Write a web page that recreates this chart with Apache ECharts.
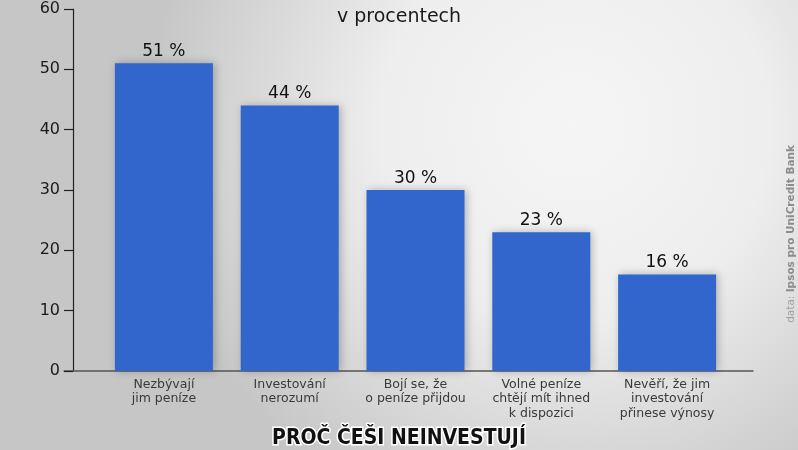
<!DOCTYPE html>
<html>
<head>
<meta charset="utf-8">
<script src="https://cdn.jsdelivr.net/npm/echarts@6/dist/echarts.min.js"></script>
<style>
  html, body { margin: 0; padding: 0; }
  #main { width: 798px; height: 450px; }
</style>
</head>
<body>
<div id="main"></div>
<script>
// data
var categories = ['Nezbývají\njim peníze', 'Investování\nnerozumí', 'Bojí se, že\no peníze přijdou', 'Volné peníze\nchtějí mít ihned\nk dispozici', 'Nevěří, že jim\ninvestování\npřinese výnosy'];
var values = [51, 44, 30, 23, 16];
var yTicks = [0, 10, 20, 30, 40, 50, 60];

var chart = echarts.init(document.getElementById('main'));

var font = '"DejaVu Sans", sans-serif';

var option = {
  backgroundColor: {
    type: 'radial', x: 0.72, y: 0.28, r: 0.95,
    colorStops: [
      { offset: 0, color: '#f5f5f5' },
      { offset: 0.45, color: '#eeeeee' },
      { offset: 1, color: '#c6c6c6' }
    ]
  },
  textStyle: { fontFamily: font },
  title: [{
    text: 'v procentech',
    left: 'center',
    top: 3,
    textStyle: { fontSize: 19, fontWeight: 'normal', color: '#1a1a1a', fontFamily: font }
  }, {
    text: 'PROČ ČEŠI NEINVESTUJÍ',
    left: 'center',
    top: 423,
    textStyle: {
      fontSize: 21, fontWeight: 'bold', color: '#111',
      fontFamily: '"DejaVu Sans Condensed", "Liberation Sans Narrow", sans-serif',
      textBorderColor: '#fff', textBorderWidth: 3
    }
  }],
  grid: [
    { left: 101, right: 68, top: 9, bottom: 79 },
    { left: 64, right: 45, top: 9, bottom: 79 }
  ],
  xAxis: [{
    type: 'category',
    gridIndex: 0,
    data: categories,
    axisLine: { show: false },
    axisTick: { show: false },
    axisLabel: { fontSize: 12.5, color: '#3a3a3a', lineHeight: 14.5, margin: 6, interval: 0, fontFamily: font }
  }, {
    type: 'category',
    gridIndex: 1,
    data: categories,
    axisLine: { lineStyle: { color: '#555', width: 1.5 } },
    axisTick: { show: false },
    axisLabel: { show: false }
  }],
  yAxis: [{
    type: 'value',
    gridIndex: 0,
    min: yTicks[0],
    max: yTicks[yTicks.length - 1],
    interval: 10,
    offset: 28,
    axisLine: { show: true, lineStyle: { color: '#222', width: 1.2 } },
    axisTick: { show: true, length: 9, lineStyle: { color: '#222', width: 1.2 } },
    axisLabel: { fontSize: 16, color: '#1a1a1a', margin: 13, fontFamily: font },
    splitLine: { show: false }
  }, {
    type: 'value',
    gridIndex: 1,
    min: 0, max: 60,
    show: false
  }],
  series: [{
    type: 'bar',
    xAxisIndex: 0,
    yAxisIndex: 0,
    data: values,
    barWidth: 98,
    itemStyle: {
      color: '#3266cc',
      shadowColor: 'rgba(0,0,0,0.25)',
      shadowBlur: 8,
      shadowOffsetX: 2
    },
    label: {
      show: true,
      position: 'top',
      distance: 3,
      formatter: '{c} %',
      fontSize: 17,
      color: '#111',
      fontFamily: font
    }
  }],
  graphic: [{
    type: 'text',
    left: 786,
    top: 145,
    rotation: Math.PI / 2,
    style: {
      text: '{a|data: }{b|Ipsos pro UniCredit Bank}',
      rich: {
        a: { fontSize: 10.5, fill: '#a0a0a0', fontFamily: font },
        b: { fontSize: 10.5, fill: '#8c8c8c', fontWeight: 'bold', fontFamily: font }
      }
    }
  }]
};

chart.setOption(option);
</script>
</body>
</html>
